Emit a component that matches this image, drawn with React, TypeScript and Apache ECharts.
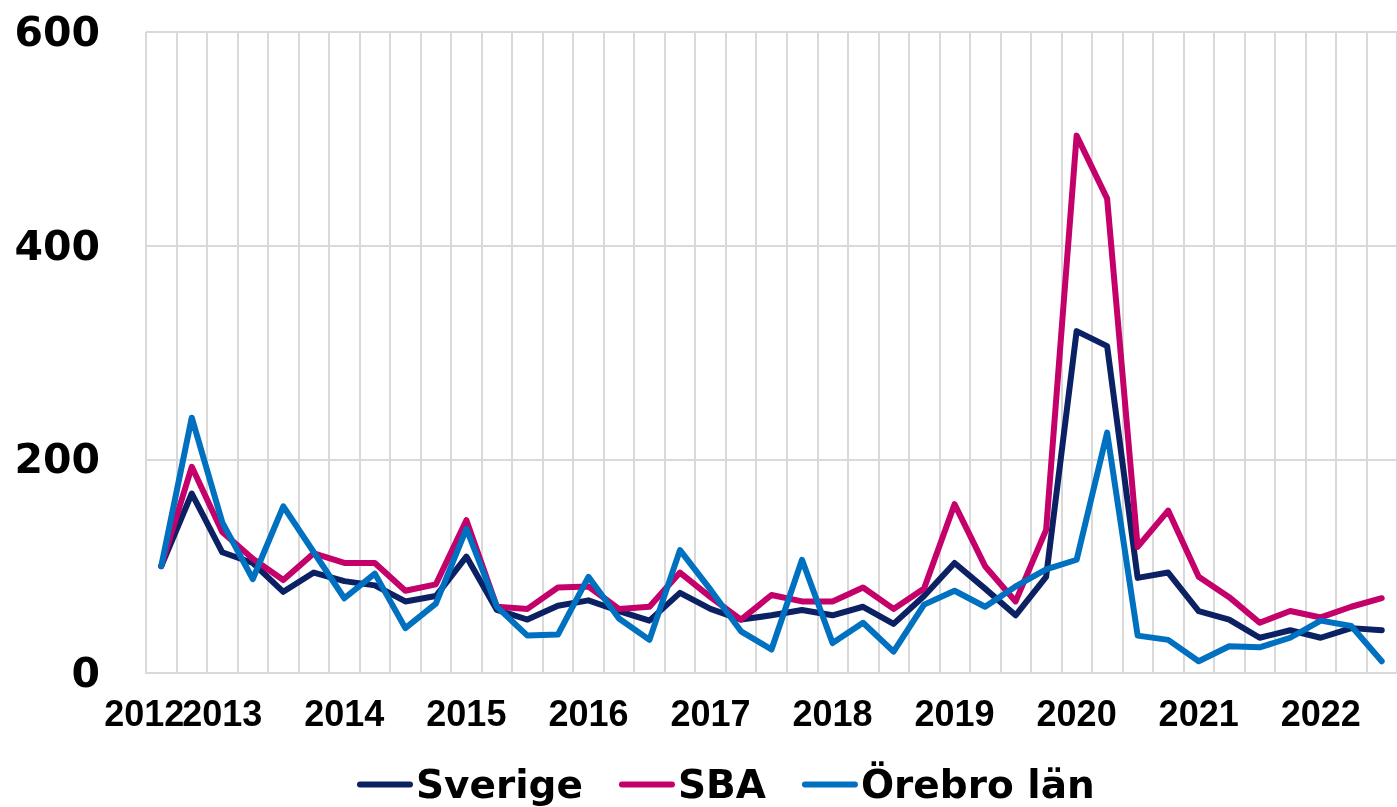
import React, { useEffect, useRef } from "react";
import * as echarts from "echarts";

// Quarterly categories, 2012 Q3 .. 2022 Q3
const quarters: string[] = [];
for (let y = 2012; y <= 2022; y++) {
  for (let q = 1; q <= 4; q++) {
    if ((y === 2012 && q < 3) || (y === 2022 && q > 3)) continue;
    quarters.push(`${y} K${q}`);
  }
}

const seriesNames = ["Sverige", "SBA", "Örebro län"];
const seriesColors = ["#0c2163", "#c4006a", "#0070c0"];

const sverige = [100, 168, 113, 103, 76, 94, 86, 82, 67, 72, 109, 59, 50, 63, 68, 58, 49, 75, 60, 50, 54, 59, 54, 62, 46, 72, 103, 79, 54, 90, 320, 306, 89, 94, 58, 50, 33, 40, 33, 42, 40];
const sba = [100, 193, 132, 107, 87, 112, 103, 103, 77, 83, 143, 62, 60, 80, 81, 60, 62, 94, 71, 50, 73, 67, 67, 80, 60, 79, 158, 100, 67, 134, 503, 444, 118, 152, 90, 71, 47, 58, 52, 62, 70];
const orebro = [100, 239, 141, 88, 156, 113, 70, 93, 42, 65, 135, 62, 35, 36, 90, 51, 31, 115, 78, 39, 22, 106, 28, 47, 20, 64, 77, 62, 81, 97, 106, 225, 35, 31, 11, 25, 24, 33, 49, 44, 11];

const yTicks = { min: 0, max: 600, interval: 200 };

const gridColor = "#d9d9d9";
const xFont = { fontFamily: "Liberation Sans", fontWeight: "bold" as const, fontSize: 36, color: "#000" };

export default function App() {
  const ref = useRef<HTMLDivElement>(null);
  useEffect(() => {
    if (!ref.current) return;
    const chart = echarts.init(ref.current, undefined, { renderer: "svg" });
    const data = [sverige, sba, orebro];
    chart.setOption({
      animation: false,
      grid: { left: 146, right: -12, top: 32, bottom: 134, containLabel: false },
      xAxis: {
        type: "category",
        data: quarters,
        boundaryGap: true,
        axisLine: { show: true, lineStyle: { color: gridColor, width: 2 } },
        axisTick: { show: false },
        splitLine: { show: true, interval: 0, lineStyle: { color: gridColor, width: 2 } },
        axisLabel: {
          interval: 0,
          margin: 22,
          ...xFont,
          formatter: (value: string, index: number) => {
            if (index === 0) return `{first|${value.slice(0, 4)}}`;
            return value.endsWith("K1") ? value.slice(0, 4) : "";
          },
          rich: {
            first: { ...xFont, padding: [0, 34, 0, 0] },
          },
        },
      },
      yAxis: {
        type: "value",
        min: yTicks.min,
        max: yTicks.max,
        interval: yTicks.interval,
        axisLine: { show: false },
        axisTick: { show: false },
        splitLine: { show: true, lineStyle: { color: gridColor, width: 2 } },
        axisLabel: {
          margin: 46,
          fontFamily: "DejaVu Sans",
          fontWeight: "bold",
          fontSize: 41,
          color: "#000",
        },
      },
      legend: {
        left: 352,
        top: 760,
        itemWidth: 56,
        itemHeight: 14,
        itemGap: 36,
        data: seriesNames.map((n) => ({ name: n, icon: "path://M3,0 L53,0 A3,3 0 0 1 53,6 L3,6 A3,3 0 0 1 3,0 Z" })),
        textStyle: { fontFamily: "DejaVu Sans", fontWeight: "bold", fontSize: 39, color: "#000", padding: [0, 0, 0, -2] },
      },
      series: seriesNames.map((name, i) => ({
        name,
        type: "line",
        data: data[i],
        symbol: "none",
        color: seriesColors[i],
        lineStyle: { width: 6, color: seriesColors[i], cap: "round", join: "round" },
      })),
    });
    return () => chart.dispose();
  }, []);
  return <div ref={ref} style={{ position: "fixed", left: 0, top: 0, width: 1397, height: 807 }} />;
}
